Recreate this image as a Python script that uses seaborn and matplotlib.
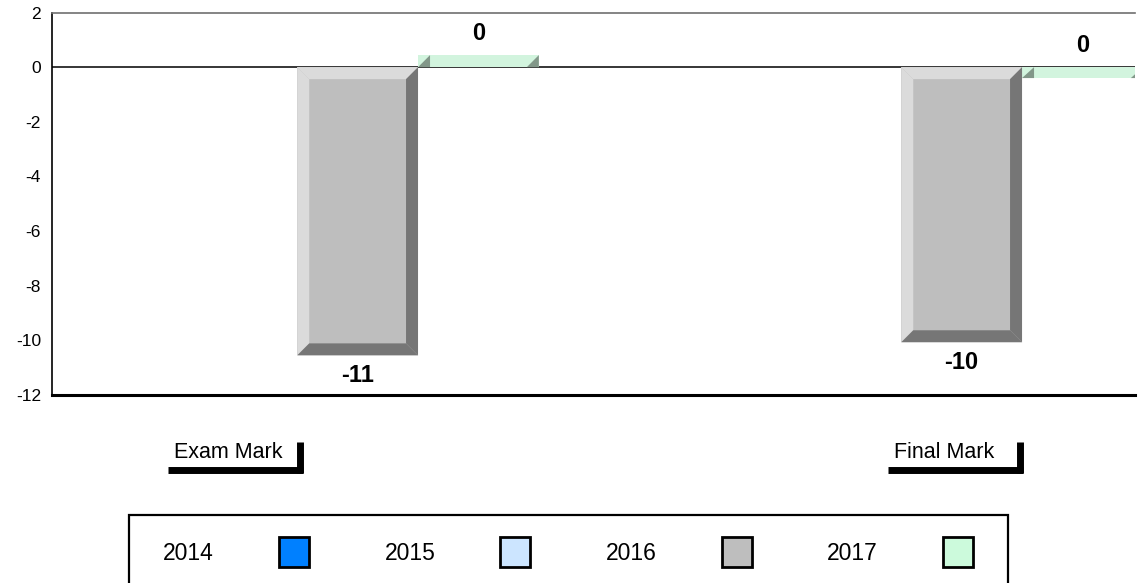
import matplotlib
matplotlib.use("Agg", force=True)
import matplotlib.pyplot as plt
import matplotlib.transforms as mtransforms
from matplotlib.colors import to_rgb
from matplotlib.lines import Line2D
from matplotlib.patches import Polygon, Rectangle
import pandas as pd
import seaborn as sns


CATEGORIES = ["Exam Mark", "Final Mark"]
YEARS = ["2014", "2015", "2016", "2017"]
VALUES_2016 = [-10.55, -10.07]
VALUES_2017 = [0.44, -0.40]
YEAR_COLORS = ["#0080ff", "#cce5ff", "#bebebe", "#ccfadc"]
Y_TICKS = [-12, -10, -8, -6, -4, -2, 0, 2]

W, H = 1140, 583
BEVEL_PX = 12
# bracket spans under each category (data x, relative to category index)
BRACKET_SPANS = [(-0.214, 0.010), (-0.022, 0.202)]


def shade(color, factor):
    return tuple(c * factor for c in to_rgb(color))


def tint(color, amount):
    return tuple(c + (1 - c) * amount for c in to_rgb(color))


def add_bevels(ax, patch):
    x0, w = patch.get_x(), patch.get_width()
    y, h = patch.get_y(), patch.get_height()
    if h != h or h == 0:
        return
    xl, xr = x0, x0 + w
    yb, yt = min(y, y + h), max(y, y + h)
    p0 = ax.transData.transform((0, 0))
    p1 = ax.transData.transform((1, 1))
    bx = BEVEL_PX / (p1[0] - p0[0])
    by = BEVEL_PX / (p1[1] - p0[1])
    face = patch.get_facecolor()
    light, dark = tint(face, 0.45), shade(face, 0.62)
    if (yt - yb) < 2.5 * by:
        polys = [
            ([(xl, yb), (xl + bx, yt), (xl + bx, yb)], dark),
            ([(xr - bx, yb), (xr, yt), (xr, yb)], dark),
        ]
    else:
        polys = [
            ([(xl, yb), (xl, yt), (xl + bx, yt - by), (xl + bx, yb + by)], light),
            ([(xl, yt), (xr, yt), (xr - bx, yt - by), (xl + bx, yt - by)], light),
            ([(xr, yt), (xr, yb), (xr - bx, yb + by), (xr - bx, yt - by)], dark),
            ([(xl, yb), (xr, yb), (xr - bx, yb + by), (xl + bx, yb + by)], dark),
        ]
    for pts, col in polys:
        ax.add_patch(Polygon(pts, closed=True, facecolor=col, edgecolor="none", zorder=4))


def main() -> None:
    sns.set_style("white")
    plt.rcParams["font.family"] = ["Liberation Sans", "DejaVu Sans"]
    plt.rcParams["text.color"] = "black"
    plt.rcParams["ytick.color"] = "black"
    plt.rcParams["xtick.color"] = "black"

    df = pd.DataFrame({
        "category": CATEGORIES * 2,
        "year": ["2016"] * len(CATEGORIES) + ["2017"] * len(CATEGORIES),
        "value": VALUES_2016 + VALUES_2017,
    })

    fig = plt.figure(figsize=(W / 100, H / 100), dpi=100)
    ax = fig.add_axes([52 / W, 1 - 395 / H, (1135 - 52) / W, (395 - 12.5) / H])

    sns.barplot(
        data=df, x="category", y="value", hue="year",
        order=CATEGORIES, hue_order=YEARS, palette=YEAR_COLORS,
        errorbar=None, width=0.8, linewidth=0, legend=False, ax=ax, zorder=3,
    )
    ax.set_xlim(-0.406, 1.387)
    ax.set_ylim(-12, 2)
    ax.axhline(0, color="black", linewidth=1.1, zorder=2)

    for patch in list(ax.patches):
        add_bevels(ax, patch)
        h = patch.get_height()
        if h != h:
            continue
        xc = patch.get_x() + patch.get_width() / 2
        label = str(int(round(h)))
        if h < -1:
            ax.annotate(label, (xc, h), xytext=(0, -6), textcoords="offset points",
                        ha="center", va="top", fontsize=17, fontweight="bold")
        else:
            ax.annotate(label, (xc, max(h, 0)), xytext=(0, 7), textcoords="offset points",
                        ha="center", va="bottom", fontsize=17, fontweight="bold")

    ax.set_yticks(Y_TICKS)
    ax.set_yticklabels([str(t) for t in Y_TICKS])
    ax.tick_params(axis="y", length=0, pad=8, labelsize=12.5)
    ax.set_xticks([])
    ax.set_xlabel("")
    ax.set_ylabel("")
    ax.spines["right"].set_visible(False)
    ax.spines["top"].set_color("#707070")
    ax.spines["top"].set_linewidth(1.2)
    ax.spines["left"].set_color("black")
    ax.spines["left"].set_linewidth(1.2)
    ax.spines["bottom"].set_color("black")
    ax.spines["bottom"].set_linewidth(2.2)

    # bracket-style category labels
    blend = mtransforms.blended_transform_factory(ax.transData, ax.transAxes)
    px_x = ax.transData.transform((1, 0))[0] - ax.transData.transform((0, 0))[0]
    for i, cat in enumerate(CATEGORIES):
        x0, x1 = i + BRACKET_SPANS[i][0], i + BRACKET_SPANS[i][1]
        ax.plot([x0, x1], [-0.195, -0.195], transform=blend, color="black",
                linewidth=5, solid_capstyle="butt", clip_on=False)
        xv = x1 - 3.5 / px_x
        ax.plot([xv, xv], [-0.204, -0.123], transform=blend, color="black",
                linewidth=5, solid_capstyle="butt", clip_on=False)
        ax.text(x0 + 6 / px_x, -0.165, cat, transform=blend, fontsize=15.5,
                ha="left", va="baseline")

    handles = [
        Line2D([], [], linestyle="", marker="s", markersize=21.5,
               markerfacecolor=c, markeredgecolor="black", markeredgewidth=2)
        for c in YEAR_COLORS
    ]
    fig.legend(handles, YEARS, loc="center", bbox_to_anchor=(0.4987, 1 - 554 / H),
               ncol=4, markerfirst=False, frameon=False, fontsize=16.5,
               handlelength=1.4, handletextpad=2.8, columnspacing=3.23)
    fig.add_artist(Rectangle((129 / W, -0.05), (1008 - 129) / W, (1 - 515 / H) + 0.05,
                             transform=fig.transFigure, fill=False,
                             edgecolor="black", linewidth=1.6))

    fig.savefig("out.png", dpi=100)
    plt.close(fig)


if __name__ == "__main__":
    main()
